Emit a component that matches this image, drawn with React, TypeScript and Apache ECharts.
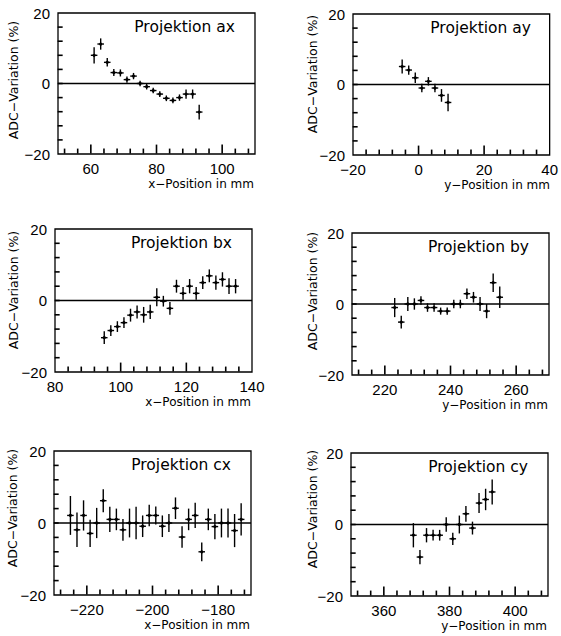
import React, { useEffect, useRef } from 'react';
import * as echarts from 'echarts';

// ---- data ----
const axX = [61, 63, 65, 67, 69, 71, 73, 75, 77, 79, 81, 83, 85, 87, 89, 91, 93];
const axY = [8, 11.2, 6, 3.1, 3, 1.1, 2.1, 0, -0.9, -2, -3, -4.2, -4.8, -4, -3, -3, -8.1];
const axErr = [2.3, 1.6, 1.2, 1.0, 1.0, 0.9, 0.9, 0.8, 0.8, 0.8, 0.8, 0.8, 0.8, 0.9, 1.3, 1.3, 2.1];
const axLabels = [60, 80, 100];

const ayX = [-5, -3, -1, 1, 3, 5, 7, 9];
const ayY = [5.1, 4.1, 1.9, -1, 0.9, -1, -3.1, -5.1];
const ayErr = [2.0, 1.3, 1.5, 1.2, 1.2, 1.2, 1.8, 2.5];
const ayLabels = [-20, 0, 20, 40];

const bxX = [95, 97, 99, 101, 103, 105, 107, 109, 111, 113, 115, 117, 119, 121, 123, 125, 127, 129, 131, 133, 135];
const bxY = [-10.4, -8.4, -7.3, -6.2, -4.1, -3.2, -4, -3.2, 0.9, -0.2, -2.2, 4, 2, 4, 2, 5, 6.9, 5, 5.9, 4, 4];
const bxErr = [1.8, 1.5, 1.5, 1.5, 1.8, 1.8, 2.2, 2.0, 2.5, 1.5, 1.8, 1.8, 1.8, 2.0, 1.8, 1.8, 1.8, 2.0, 2.0, 2.2, 2.0];
const bxLabels = [80, 100, 120, 140];

const byX = [223, 225, 227, 229, 231, 233, 235, 237, 239, 241, 243, 245, 247, 249, 251, 253, 255];
const byY = [-1, -5.1, 0, 0, 1, -1, -1, -2, -2, 0, 0, 2.9, 1.9, 0, -2, 6, 1.9];
const byErr = [2.7, 1.8, 2.0, 1.6, 1.2, 1.2, 1.2, 1.0, 1.0, 1.2, 1.2, 1.5, 1.5, 2.0, 2.0, 2.6, 3.0];
const byLabels = [220, 240, 260];

const cxX = [-225, -223, -221, -219, -217, -215, -213, -211, -209, -207, -205, -203, -201, -199, -197, -195, -193, -191, -189, -187, -185, -183, -181, -179, -177, -175, -173];
const cxY = [2.1, -1.9, 2.1, -2.9, 0, 6.2, 1, 1, -1.9, 0, 0, -0.9, 2.1, 2.1, -0.9, 0, 4.1, -3.9, 1, 2.1, -8, 1, -1, 0, 0, -2.1, 1];
const cxErr = [5.4, 4.8, 4.2, 3.8, 4.2, 3.2, 3.5, 3.0, 3.0, 4.0, 4.5, 3.0, 3.0, 2.5, 3.0, 2.5, 3.0, 3.0, 3.0, 3.5, 2.6, 3.0, 3.5, 4.0, 4.0, 4.6, 4.5];
const cxLabels = [-220, -200, -180];

const cyX = [369, 371, 373, 375, 377, 379, 381, 383, 385, 387, 389, 391, 393];
const cyY = [-3, -9.1, -3, -3, -3, 0, -4, 0, 3, -1, 6, 7, 9.1];
const cyErr = [3.4, 2.0, 2.0, 1.5, 1.5, 2.0, 1.7, 2.5, 2.2, 1.8, 2.8, 3.0, 3.5];
const cyLabels = [360, 380, 400];

const yLabels = [-20, 0, 20];
const yTicks = [-16, -12, -8, -4, 0, 4, 8, 12, 16];

// ---- layout ----
const panels = [
  { title: 'Projektion ax', xs: axX, ys: axY, es: axErr, min: 50, max: 110, labels: axLabels, xName: 'x−Position in mm', box: [58, 13, 197, 141], yName: [13, 80] },
  { title: 'Projektion ay', xs: ayX, ys: ayY, es: ayErr, min: -20, max: 40, labels: ayLabels, xName: 'y−Position in mm', box: [353, 14, 198, 141], yName: [312, 74] },
  { title: 'Projektion bx', xs: bxX, ys: bxY, es: bxErr, min: 80, max: 140, labels: bxLabels, xName: 'x−Position in mm', box: [55, 229, 197, 143], yName: [13, 290] },
  { title: 'Projektion by', xs: byX, ys: byY, es: byErr, min: 210, max: 270, labels: byLabels, xName: 'y−Position in mm', box: [352, 233, 197, 142], yName: [312, 291] },
  { title: 'Projektion cx', xs: cxX, ys: cxY, es: cxErr, min: -230, max: -170, labels: cxLabels, xName: 'x−Position in mm', box: [54, 451, 197, 144], yName: [12, 508] },
  { title: 'Projektion cy', xs: cyX, ys: cyY, es: cyErr, min: 350, max: 410, labels: cyLabels, xName: 'y−Position in mm', box: [351, 453, 197, 143], yName: [312, 509] },
];

const fmt = (v: number) => (v < 0 ? '−' + Math.abs(v) : String(v));
const LABEL_FONT = 'Liberation Sans';
const TEXT_FONT = 'DejaVu Sans';
const INK = '#000';

function minorTicks(labels: number[], min: number, max: number) {
  const out: number[] = [];
  const start = labels[0] - 4 * Math.floor((labels[0] - min) / 4);
  for (let v = start; v < max; v += 4) {
    if (v > min && !labels.includes(v)) out.push(v);
  }
  return out;
}

export default function App() {
  const ref = useRef<HTMLDivElement>(null);
  useEffect(() => {
    if (!ref.current) return;
    const chart = echarts.init(ref.current, null, { renderer: 'svg' });
    const grid: any[] = [];
    const xAxis: any[] = [];
    const yAxis: any[] = [];
    const series: any[] = [];
    const graphic: any[] = [];
    panels.forEach((p, i) => {
      const [l, t, w, h] = p.box;
      grid.push({ left: l, top: t, width: w, height: h, show: true, borderColor: INK, borderWidth: 1.3, backgroundColor: 'transparent' });
      xAxis.push({
        type: 'value', gridIndex: i, min: p.min, max: p.max, position: 'bottom',
        axisLine: { show: false, onZero: false }, splitLine: { show: false }, axisTick: { show: false },
        axisLabel: { show: true, customValues: p.labels, formatter: fmt, margin: 7, color: INK, fontFamily: LABEL_FONT, fontSize: 15 },
      });
      yAxis.push({
        type: 'value', gridIndex: i, min: -20, max: 20, interval: 4, position: 'left',
        axisLine: { show: false, onZero: false }, splitLine: { show: false }, axisTick: { show: false },
        axisLabel: { show: true, formatter: (v: number) => (yLabels.includes(v) ? fmt(v) : ''), margin: 8, color: INK, fontFamily: LABEL_FONT, fontSize: 15 },
      });
      // zero line
      series.push({
        type: 'line', xAxisIndex: i, yAxisIndex: i, data: [[p.min, 0], [p.max, 0]],
        symbol: 'none', lineStyle: { color: INK, width: 1.3 }, silent: true, z: 3,
      });
      // data points with error crosses
      series.push({
        type: 'custom', xAxisIndex: i, yAxisIndex: i, z: 4,
        data: p.xs.map((x, k) => [x, p.ys[k], p.es[k]]),
        encode: { x: 0, y: 1 },
        renderItem: (_params: any, api: any) => {
          const x = api.value(0), y = api.value(1), e = api.value(2);
          const c = api.coord([x, y]);
          const a = api.coord([x - 1, y]);
          const b = api.coord([x + 1, y]);
          const tp = api.coord([x, y + e]);
          const bt = api.coord([x, y - e]);
          return {
            type: 'group',
            children: [
              { type: 'line', shape: { x1: a[0], y1: a[1], x2: b[0], y2: b[1] }, style: { stroke: INK, lineWidth: 1.4 } },
              { type: 'line', shape: { x1: tp[0], y1: tp[1], x2: bt[0], y2: bt[1] }, style: { stroke: INK, lineWidth: 1.4 } },
              { type: 'circle', shape: { cx: c[0], cy: c[1], r: 1.6 }, style: { fill: INK } },
            ],
          };
        },
      });
      // tick marks: a custom series whose items sit just inside the frame
      const xt = [
        ...p.labels.filter((v) => v > p.min && v < p.max).map((v) => [v, -19.6, 0, 9]),
        ...minorTicks(p.labels, p.min, p.max).map((v) => [v, -19.6, 0, 5]),
      ];
      const yt = yTicks.map((v) => [p.min + 0.2, v, 1, 5]);
      series.push({
        type: 'custom', xAxisIndex: i, yAxisIndex: i, z: 6, silent: true,
        data: [...xt, ...yt],
        encode: { x: 0, y: 1 },
        renderItem: (_params: any, api: any) => {
          const c = api.coord([api.value(0), api.value(1)]);
          const kind = api.value(2), len = api.value(3);
          const shape = kind === 0
            ? { x1: c[0], y1: c[1] + 1, x2: c[0], y2: c[1] + 1 - len }
            : { x1: c[0] - 1, y1: c[1], x2: c[0] - 1 + len, y2: c[1] };
          return { type: 'line', shape, style: { stroke: INK, lineWidth: 1.6 } };
        },
      });
      graphic.push({
        type: 'text', x: l + w - 20, y: t + 13.5,
        style: { text: p.title, fill: INK, font: `15.5px "${TEXT_FONT}"`, align: 'right', verticalAlign: 'middle' },
      });
      graphic.push({
        type: 'text', x: l + w - 1, y: t + h + 29.5,
        style: { text: p.xName, fill: INK, font: `12px "${TEXT_FONT}"`, align: 'right', verticalAlign: 'middle' },
      });
      graphic.push({
        type: 'text', x: p.yName[0], y: p.yName[1], rotation: Math.PI / 2,
        style: { text: 'ADC−Variation (%)', fill: INK, font: `12.5px "${TEXT_FONT}"`, align: 'center', verticalAlign: 'middle' },
      });
    });
    chart.setOption({ animation: false, backgroundColor: '#fff', grid, xAxis, yAxis, series, graphic });
    return () => chart.dispose();
  }, []);
  return <div ref={ref} style={{ position: 'absolute', left: 0, top: 0, width: 561, height: 636 }} />;
}
